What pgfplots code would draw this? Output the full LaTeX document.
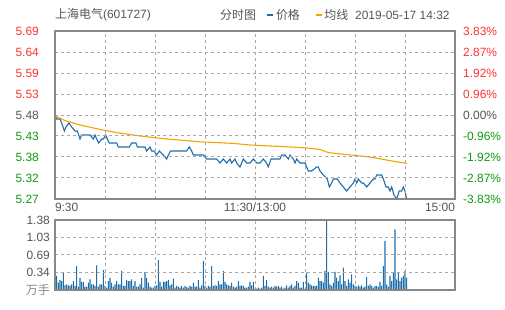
\documentclass[border=0pt]{standalone}
\usepackage{pgfplots}
\pgfplotsset{compat=1.18}
\usepackage{fontspec}
\setmainfont{Liberation Sans}
\newfontfamily\cjk{Noto Sans CJK SC}
\definecolor{pblue}{HTML}{1F6EAB}
\definecolor{porange}{HTML}{F5A300}
\definecolor{upred}{HTML}{FF3333}
\definecolor{dngreen}{HTML}{119911}
\definecolor{txtgray}{HTML}{555555}
\definecolor{lgray}{HTML}{888888}
\definecolor{gridgray}{HTML}{A8A8A8}
\definecolor{framegray}{HTML}{888888}
\begin{document}
\begin{tikzpicture}
\useasboundingbox (0bp,0bp) rectangle (505bp,310bp);
\pgfplotsset{
  common/.style={
    scale only axis, width=400bp, xmin=0, xmax=240,
    axis line style={framegray, line width=1.2bp},
    ticklabel style={font=\fontsize{12}{14}\selectfont, text=txtgray, inner sep=0pt},
    xtick={0,30,...,240},
    major tick length=0.01pt,
    tick style={gridgray},
    xmajorgrids, ymajorgrids,
    major grid style={color=gridgray, line width=1bp, dash pattern=on 3bp off 3bp},
    axis on top,
  }
}
% main price panel
\begin{axis}[common, at={(55bp,111bp)}, anchor=south west, height=168bp,
  ymin=5.27, ymax=5.69,
  ytick={5.27,5.3225,5.375,5.4275,5.48,5.5325,5.585,5.6375,5.69},
  yticklabels={\textcolor{dngreen}{5.27},\textcolor{dngreen}{5.32},\textcolor{dngreen}{5.38},\textcolor{dngreen}{5.43},\textcolor{txtgray}{5.48},\textcolor{upred}{5.53},\textcolor{upred}{5.59},\textcolor{upred}{5.64},\textcolor{upred}{5.69}},
  yticklabel shift=16bp,
  xticklabels={\makebox[0pt][l]{9:30},,,,11:30/13:00,,,,\makebox[0pt][r]{15:00}},
  xticklabel shift=4bp,
  legend columns=2,
  legend style={at={(0.5275,1.095)}, anchor=west, draw=none, fill=none, inner sep=0pt, outer sep=0pt,
    font=\fontsize{12}{14}\selectfont\cjk, text=txtgray,
    nodes={inner sep=1.5bp},
    /tikz/every even column/.append style={column sep=13bp}},
  legend image code/.code={\draw[#1, line width=2.5bp] (0bp,0bp) -- (6bp,0bp);},
]
\addplot[pblue, line width=1.1bp] coordinates {
(0,5.48)(1,5.47)(2,5.47)(3,5.47)(4,5.46)(5.6,5.44)(6.6,5.45)(8.4,5.46)(10,5.45)(12,5.44)(13.4,5.44)(15,5.42)(16,5.43)(21,5.43)(23,5.42)(24,5.43)(25,5.42)(26.2,5.41)(28,5.42)(29,5.42)(30.4,5.43)(31.4,5.42)(32.6,5.41)(34,5.41)(37,5.41)(38,5.40)(44.6,5.40)(46,5.41)(48.6,5.41)(49.4,5.40)(54,5.40)(55,5.39)(57,5.40)(58,5.39)(59.4,5.39)(61,5.38)(62.6,5.39)(65,5.38)(67,5.37)(68,5.38)(69.4,5.39)(75,5.39)(77,5.39)(79,5.39)(80.6,5.40)(82,5.39)(83,5.38)(85,5.38)(87,5.38)(89,5.38)(91,5.37)(92,5.37)(97,5.37)(99,5.36)(101,5.37)(103,5.36)(105,5.37)(106,5.36)(108,5.37)(109,5.36)(111,5.35)(112,5.36)(113,5.37)(115,5.36)(117,5.36)(119,5.37)(121,5.36)(123,5.36)(125,5.37)(127,5.36)(128,5.35)(129.6,5.37)(132,5.37)(135,5.37)(136,5.38)(137,5.38)(138,5.38)(140,5.37)(141,5.38)(143,5.37)(144,5.36)(145,5.37)(147,5.36)(150,5.36)(152,5.34)(154,5.34)(157,5.35)(158,5.35)(159,5.34)(161,5.33)(163.4,5.32)(164.6,5.30)(166,5.31)(167,5.32)(169.4,5.32)(171,5.31)(173,5.30)(175,5.29)(177,5.30)(179,5.31)(180,5.32)(181,5.31)(182,5.32)(184,5.31)(185,5.31)(187,5.30)(189,5.31)(191,5.32)(192,5.32)(193,5.33)(194,5.33)(196,5.33)(197,5.32)(198.6,5.30)(200,5.30)(201,5.29)(202,5.30)(203.4,5.28)(205,5.27)(206.5,5.29)(208,5.29)(209,5.30)(210,5.29)(211,5.27)
};
\addlegendentry{价格}
\addplot[porange, line width=1.1bp] coordinates {
(0,5.478)(6,5.466)(15,5.455)(27,5.444)(37,5.436)(51,5.4275)(67,5.42)(87,5.413)(107,5.409)(117,5.405)(137,5.401)(150,5.398)(159,5.394)(164,5.386)(177,5.38)(187,5.376)(197,5.369)(205,5.363)(211,5.359)
};
\addlegendentry{均线}
\end{axis}
% right percentage axis
\begin{axis}[scale only axis, width=400bp, height=168bp, at={(55bp,111bp)}, anchor=south west,
  xmin=0, xmax=240, ymin=-3.83, ymax=3.83, hide x axis, axis y line*=right,
  axis line style={framegray, line width=1.2bp},
  tick style={draw=none},
  ticklabel style={font=\fontsize{12}{14}\selectfont, inner sep=0pt},
  ytick={-3.83,-2.8725,-1.915,-0.9575,0,0.9575,1.915,2.8725,3.83},
  yticklabels={\textcolor{dngreen}{-3.83\%},\textcolor{dngreen}{-2.87\%},\textcolor{dngreen}{-1.92\%},\textcolor{dngreen}{-0.96\%},\textcolor{txtgray}{0.00\%},\textcolor{upred}{0.96\%},\textcolor{upred}{1.92\%},\textcolor{upred}{2.87\%},\textcolor{upred}{3.83\%}},
  yticklabel shift=8bp,
]
\end{axis}
% volume panel
\begin{axis}[common, at={(55bp,20bp)}, anchor=south west, height=70bp,
  ymin=0, ymax=1.38,
  ytick={0,0.345,0.69,1.035,1.38},
  yticklabels={\textcolor{lgray}{\cjk 万手},0.34,0.69,1.03,1.38},
  yticklabel shift=5bp,
  xticklabels={},
]
\addplot[ybar, bar width=1.1bp, fill=pblue, draw=none] coordinates {
(0,0.355)(1,0.276)(2,0.145)(3,0.197)(4,0.177)(5,0.355)(6,0.092)(7,0.112)(8,0.092)(9,0.079)(10,0.112)(11,0.177)(12,0.079)(13,0.473)(14,0.066)(15,0.237)(16,0.158)(17,0.158)(18,0.066)(19,0.066)(20,0.145)(21,0.21)(22,0.112)(23,0.112)(24,0.079)(25,0.486)(26,0.066)(27,0.112)(28,0.112)(29,0.394)(30,0.079)(31,0.046)(32,0.177)(33,0.237)(34,0.145)(35,0.066)(36,0.112)(37,0.177)(38,0.112)(39,0.112)(40,0.375)(41,0.079)(42,0.079)(43,0.197)(44,0.177)(45,0.177)(46,0.21)(47,0.079)(48,0.177)(49,0.066)(50,0.066)(51,0.112)(52,0.237)(53,0.046)(54,0.355)(55,0.237)(56,0.145)(57,0.066)(58,0.046)(59,0.046)(60,0.079)(61,0.092)(62,0.59)(63,0.158)(64,0.066)(65,0.158)(66,0.158)(67,0.177)(68,0.197)(69,0.092)(70,0.112)
(71,0.223)(72,0.046)(73,0.079)(74,0.066)(75,0.046)(76,0.079)(77,0.046)(78,0.079)(79,0.059)(80,0.046)(81,0.079)(82,0.066)(83,0.145)(84,0.066)(85,0.066)(86,0.197)(87,0.046)(88,0.092)(89,0.572)(90,0.079)(91,0.046)(92,0.079)(93,0.066)(94,0.473)(95,0.079)(96,0.092)(97,0.079)(98,0.177)(99,0.112)(100,0.112)(101,0.375)(102,0.158)(103,0.112)(104,0.092)(105,0.079)(106,0.145)(107,0.066)(108,0.046)(109,0.066)(110,0.177)(111,0.079)(112,0.092)(113,0.079)(114,0.046)(115,0.046)(116,0.066)(117,0.158)(118,0.092)(119,0.158)
(120,0.026)(121,0.026)(122,0.046)(123,0.026)(124,0.046)(125,0.276)(126,0.079)(127,0.197)(128,0.066)(129,0.046)(130,0.066)(131,0.046)(132,0.079)(133,0.066)(134,0.079)(135,0.046)(136,0.066)(137,0.026)(138,0.046)(139,0.092)(140,0.046)
(141,0.079)(142,0.112)(143,0.046)(144,0.079)(145,0.177)(146,0.145)(147,0.046)(148,0.046)(149,0.158)(150,0.026)(151,0.342)(152,0.145)(153,0.112)(154,0.092)(155,0.079)(156,0.079)(157,0.079)(158,0.243)(159,0.177)(160,0.177)(161,0.145)(162,0.375)(163,1.38)(164,0.355)(165,0.112)(166,0.079)(167,0.145)(168,0.355)(169,0.243)(170,0.177)(171,0.289)(172,0.112)(173,0.44)(174,0.177)(175,0.079)(176,0.21)(177,0.145)(178,0.309)(179,0.112)(180,0.079)(181,0.066)(182,0.092)(183,0.066)(184,0.092)(185,0.046)(186,0.066)(187,0.256)(188,0.079)(189,0.112)(190,0.079)(191,0.046)(192,0.079)(193,0.079)(194,0.066)(195,0.158)(196,0.079)(197,0.473)(198,0.966)(199,0.112)(200,0.066)(201,0.276)(202,0.177)(203,0.355)(204,1.196)(205,0.21)(206,0.342)(207,0.177)(208,0.243)(209,0.276)(210,0.375)(211,0.243)
};
\end{axis}
% title row
\node[anchor=west, inner sep=0pt, text=txtgray, font=\fontsize{12}{14}\selectfont] at (55bp,295bp) {{\cjk 上海电气}(601727)};
\node[anchor=west, inner sep=0pt, text=txtgray, font=\fontsize{12}{14}\selectfont\cjk] at (220bp,295bp) {分时图};
\node[anchor=west, inner sep=0pt, text=txtgray, font=\fontsize{12}{14}\selectfont] at (355bp,295bp) {2019-05-17 14:32};
\end{tikzpicture}
\end{document}
